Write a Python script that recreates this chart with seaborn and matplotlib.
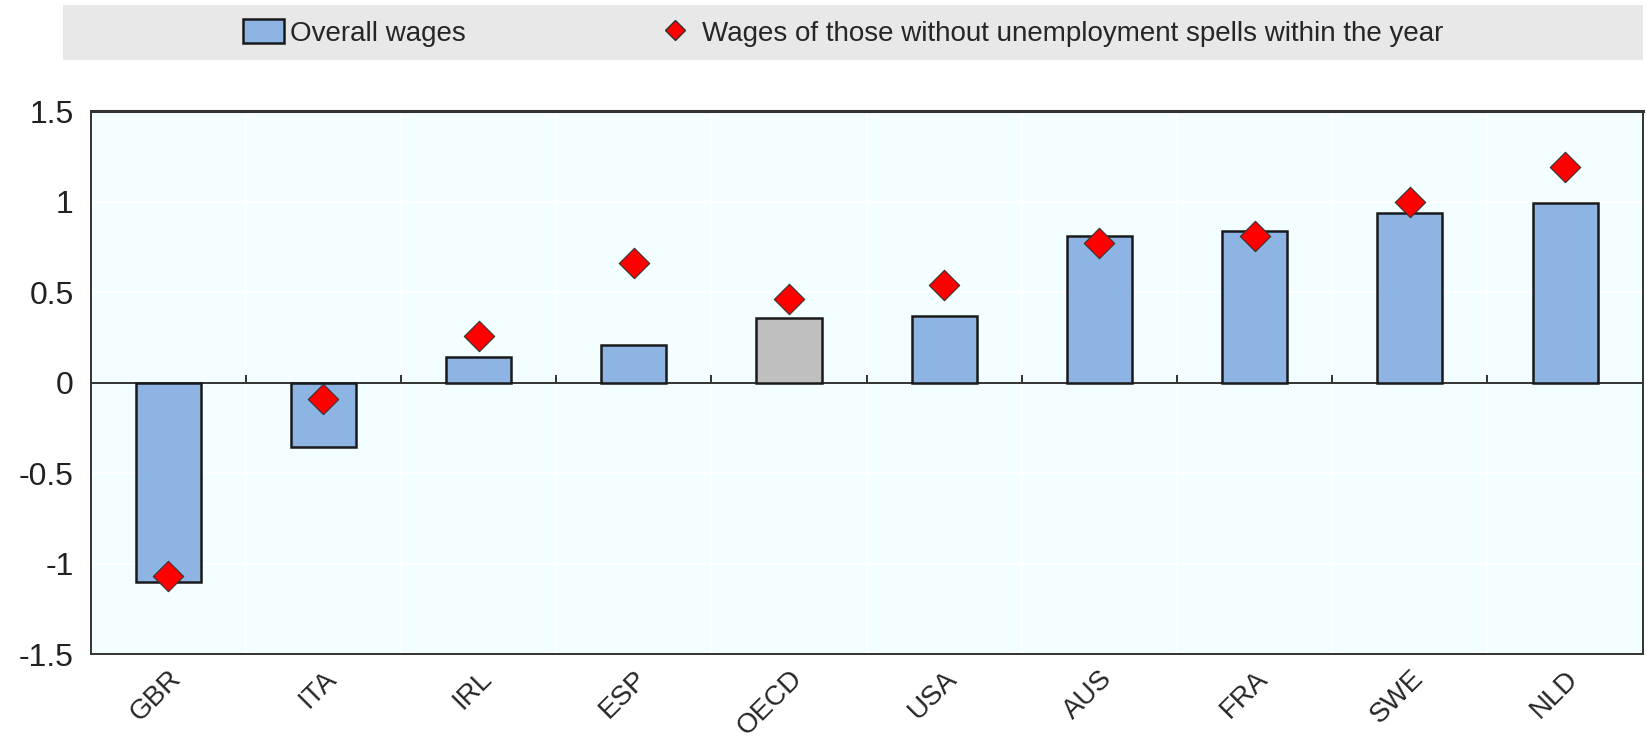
import numpy as np
import pandas as pd
import matplotlib.pyplot as plt
import matplotlib.patches as mpatches
from matplotlib.lines import Line2D
import seaborn as sns

# Veriler
countries = ["GBR", "ITA", "IRL", "ESP", "OECD", "USA", "AUS", "FRA", "SWE", "NLD"]
overall = [-1.10, -0.355, 0.14, 0.21, 0.36, 0.37, 0.81, 0.84, 0.94, 0.99]
no_unemp = [-1.07, -0.09, 0.26, 0.66, 0.46, 0.54, 0.77, 0.81, 1.00, 1.19]

df = pd.DataFrame({"country": countries, "overall": overall, "no_unemp": no_unemp})

bar_blue = "#8eb4e3"
bar_grey = "#bfbfbf"
colors = {c: (bar_grey if c == "OECD" else bar_blue) for c in countries}

sns.set_style("white")
plt.rcParams["font.family"] = ["Liberation Sans Narrow", "Liberation Sans", "DejaVu Sans"]

fig = plt.figure(figsize=(16.46, 7.41), dpi=100)
ax = fig.add_axes([0.055, 0.117, 0.943, 0.733])
ax.set_facecolor("#f2feff")

sns.barplot(data=df, x="country", y="overall", hue="country", palette=colors, saturation=1,
            legend=False, width=0.42, edgecolor="#1a1a1a", linewidth=1.8, ax=ax, zorder=3)
sns.scatterplot(data=df, x="country", y="no_unemp", marker="D", s=240, color="#ff0000",
                edgecolor="#333333", linewidth=0.8, ax=ax, zorder=4)

# Izgara ve eksenler
ax.set_ylim(-1.5, 1.5)
ax.set_xlim(-0.5, len(countries) - 0.5)
ax.set_yticks([-1.5, -1, -0.5, 0, 0.5, 1, 1.5])
ax.set_yticklabels(["-1.5", "-1", "-0.5", "0", "0.5", "1", "1.5"])
ax.set_xticks(np.arange(-0.5, len(countries), 1), minor=True)
ax.grid(True, which="major", axis="y", color="white", linewidth=1.2, zorder=0)
ax.grid(True, which="minor", axis="x", color="white", linewidth=1.2, zorder=0)
ax.axhline(0, color="#333333", linewidth=1.4, zorder=2)
ax.vlines(np.arange(0.5, len(countries) - 1, 1), 0, 0.04, color="#333333", linewidth=1.4, zorder=2)

ax.tick_params(axis="y", which="major", direction="in", length=7, width=1.2,
               color="#333333", labelsize=23, labelcolor="#222222", pad=12)
ax.tick_params(axis="x", which="both", length=0, labelsize=20, pad=8)
plt.setp(ax.get_xticklabels(), rotation=45, ha="right", rotation_mode="anchor")
ax.set_xlabel("")
ax.set_ylabel("")
for s in ax.spines.values():
    s.set_color("#333333")
    s.set_linewidth(1.4)
ax.spines["top"].set_linewidth(2.2)

# Lejant
fig.patches.append(mpatches.Rectangle((0.038, 0.919), 0.96, 0.074, transform=fig.transFigure,
                                      facecolor="#e8e8e8", edgecolor="none", zorder=0))
handles = [
    mpatches.Patch(facecolor=bar_blue, edgecolor="#1a1a1a", linewidth=1.8, label="Overall wages"),
    Line2D([], [], marker="D", linestyle="none", markersize=10, markerfacecolor="#ff0000",
           markeredgecolor="#333333", label="Wages of those without unemployment spells within the year"),
]
leg = fig.legend(handles=handles, loc="center", ncol=2, bbox_to_anchor=(0.512, 0.956),
                 frameon=False, fontsize=20, handlelength=1.5, handleheight=1.0,
                 handletextpad=0.2, borderaxespad=0, columnspacing=6.8)

fig.savefig("out.png", dpi=100)
